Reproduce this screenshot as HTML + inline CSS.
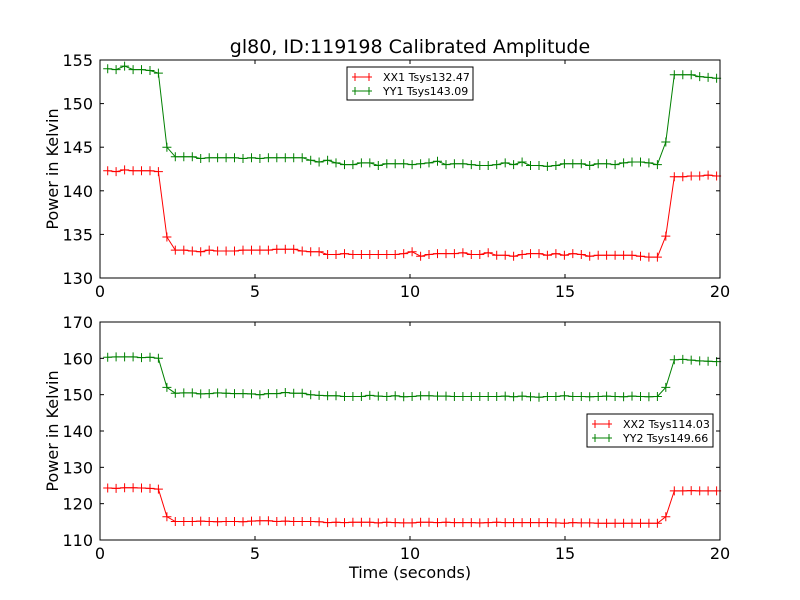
<!DOCTYPE html>
<html><head><meta charset="utf-8"><style>
html,body{margin:0;padding:0;background:#fff;}
svg{display:block;font-family:"DejaVu Sans","Liberation Sans",sans-serif;}
</style></head><body>
<svg id="c" width="800" height="600" xmlns="http://www.w3.org/2000/svg"></svg>
<script>
const tStart = 0.248;
const tStep = 0.2728;
const yy1 = [154.0,153.9,154.3,153.9,153.9,153.8,153.5,145.0,
143.9,143.9,143.9,143.7,143.8,143.8,143.8,143.8,143.7,143.8,
143.7,143.8,143.8,143.8,143.8,143.8,143.5,143.3,143.5,143.2,
143.0,143.0,143.2,143.2,142.9,143.1,143.1,143.1,143.0,143.1,
143.2,143.4,143.0,143.1,143.1,143.0,142.9,142.9,143.0,143.2,
143.0,143.3,142.9,142.9,142.8,142.9,143.1,143.1,143.1,142.9,
143.1,143.1,143.0,143.2,143.3,143.3,143.2,143.0,
145.6,153.3,153.3,153.3,153.1,153.0,152.9];
const xx1 = [142.3,142.2,142.4,142.3,142.3,142.3,142.2,134.7,
133.2,133.2,133.1,133.0,133.2,133.1,133.1,133.1,133.2,133.2,
133.2,133.2,133.3,133.3,133.3,133.1,133.0,133.0,132.7,132.7,
132.8,132.7,132.7,132.7,132.7,132.7,132.7,132.8,133.0,132.5,
132.7,132.8,132.8,132.8,132.9,132.7,132.7,132.9,132.6,132.6,
132.5,132.7,132.8,132.8,132.6,132.8,132.6,132.8,132.7,132.5,
132.6,132.6,132.6,132.6,132.6,132.5,132.4,132.4,
134.8,141.6,141.6,141.7,141.7,141.8,141.7];
const yy2 = [160.3,160.4,160.4,160.4,160.2,160.3,160.0,152.0,
150.4,150.5,150.5,150.2,150.3,150.5,150.4,150.3,150.3,150.2,
150.0,150.3,150.3,150.6,150.4,150.4,150.0,149.8,149.7,149.7,
149.5,149.5,149.5,149.8,149.6,149.5,149.7,149.4,149.5,149.7,
149.7,149.6,149.6,149.5,149.5,149.5,149.5,149.5,149.5,149.6,
149.4,149.6,149.4,149.3,149.5,149.5,149.7,149.5,149.5,149.4,
149.5,149.6,149.5,149.4,149.6,149.5,149.4,149.5,
152.0,159.6,159.7,159.5,159.3,159.2,159.1];
const xx2 = [124.3,124.2,124.4,124.4,124.3,124.2,124.0,116.4,
115.1,115.1,115.1,115.2,115.1,115.0,115.1,115.1,115.0,115.2,
115.3,115.3,115.1,115.2,115.1,115.1,115.1,115.0,114.8,114.9,
114.8,114.9,114.9,114.9,114.7,114.9,114.8,114.7,114.7,114.9,
114.9,114.8,114.9,114.8,114.8,114.8,114.7,114.8,114.9,114.8,
114.8,114.8,114.8,114.8,114.8,114.7,114.6,114.8,114.7,114.7,
114.6,114.6,114.6,114.6,114.6,114.6,114.6,114.6,
116.4,123.5,123.5,123.6,123.5,123.5,123.5];
const xTicks = [0,5,10,15,20];
const yTicksTop = [130,135,140,145,150,155];
const yTicksBot = [110,120,130,140,150,160,170];
const legendTop = ["XX1 Tsys132.47","YY1 Tsys143.09"];
const legendBot = ["XX2 Tsys114.03","YY2 Tsys149.66"];

const svg = document.getElementById('c');
const NS = 'http://www.w3.org/2000/svg';
function mk(tag, attrs, parent){
  const e = document.createElementNS(NS, tag);
  for (const k in attrs) e.setAttribute(k, attrs[k]);
  (parent||svg).appendChild(e);
  return e;
}
function txt(s, attrs, parent){ const e = mk('text', attrs, parent); e.textContent = s; return e; }

function panel(name, top, bottom, ymin, ymax, yTicks, red, green, legend, lx, ly){
  const L = 100, R = 720;
  const g = mk('g', {});
  
  
  const xs = t => L + (t - 0) / 20 * (R - L);
  const ys = v => bottom - (v - ymin) / (ymax - ymin) * (bottom - top);
  [[red,'#ff0000','xx-series'],[green,'#008000','yy-series']].forEach(([arr,col,nm])=>{
    const sg = mk('g', {}, g);
    
    
    const pts = arr.map((v,i)=>[xs(tStart + i*tStep), ys(v)]);
    mk('polyline', {points: pts.map(p=>p[0].toFixed(1)+','+p[1].toFixed(1)).join(' '), fill:'none', stroke:col, 'stroke-width':1}, sg);
    let d = '';
    pts.forEach(p=>{ d += `M${(p[0]-4.5).toFixed(1)} ${p[1].toFixed(1)}h9M${p[0].toFixed(1)} ${(p[1]-4.5).toFixed(1)}v9`; });
    mk('path', {d, stroke:col, 'stroke-width':1, fill:'none'}, sg);
  });
  mk('rect', {x:L, y:top, width:R-L, height:bottom-top, fill:'none', stroke:'#000', 'stroke-width':1}, g);
  xTicks.forEach(t=>{
    const x = xs(t);
    mk('line', {x1:x, x2:x, y1:bottom, y2:bottom-4, stroke:'#000'}, g);
    mk('line', {x1:x, x2:x, y1:top, y2:top+4, stroke:'#000'}, g);
    const lab = txt(String(t), {x:x, y:bottom+19, 'font-size':16, 'text-anchor':'middle'}, g);
    
    
  });
  yTicks.forEach(v=>{
    const y = ys(v);
    mk('line', {x1:L, x2:L+4, y1:y, y2:y, stroke:'#000'}, g);
    mk('line', {x1:R, x2:R-4, y1:y, y2:y, stroke:'#000'}, g);
    const lab = txt(String(v), {x:L-7, y:y+6, 'font-size':16, 'text-anchor':'end'}, g);
    
    
  });
  const yl = txt('Power in Kelvin', {x:0, y:0, 'font-size':16, 'text-anchor':'middle', transform:`translate(58,${(top+bottom)/2}) rotate(-90)`}, g);
  
  
  const lg = mk('g', {}, g);
  
  
  mk('rect', {x:lx, y:ly, width:126, height:33, fill:'#fff', stroke:'#000', 'stroke-width':1}, lg);
  [['#ff0000',legend[0]],['#008000',legend[1]]].forEach(([col,s],i)=>{
    const yy = ly + 10 + i*14;
    const e = mk('g', {}, lg);
    
    
    mk('path', {d:`M${lx+5} ${yy}h20M${lx+8} ${yy-4}v8M${lx+22} ${yy-4}v8`, stroke:col, fill:'none'}, e);
    txt(s, {x:lx+36, y:yy+4, 'font-size':11}, e);
  });
}
panel('top-panel', 60, 278, 130, 155, yTicksTop, xx1, yy1, legendTop, 347, 67);
panel('bottom-panel', 322, 540, 110, 170, yTicksBot, xx2, yy2, legendBot, 587, 414);
const title = txt('gl80, ID:119198 Calibrated Amplitude', {x:410, y:53, 'font-size':19, 'text-anchor':'middle'});


const xt = txt('Time (seconds)', {x:410, y:578, 'font-size':16, 'text-anchor':'middle'});


</script>
</body></html>
